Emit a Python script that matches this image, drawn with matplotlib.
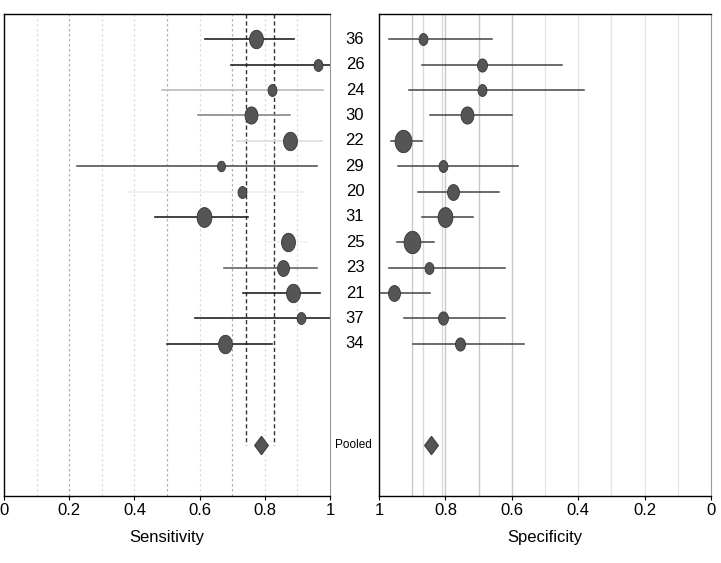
import matplotlib
matplotlib.use("Agg")
import matplotlib.pyplot as plt
import numpy as np
from matplotlib.path import Path
from matplotlib.transforms import blended_transform_factory

plt.rcParams['font.family'] = ['Liberation Sans', 'DejaVu Sans']

# ---- data ----
studies = ["36", "26", "24", "30", "22", "29", "20", "31", "25", "23", "21", "37", "34"]
sens = [0.773, 0.964, 0.821, 0.758, 0.877, 0.666, 0.729, 0.613, 0.872, 0.857, 0.885, 0.911, 0.678]
sens_lo = [0.617, 0.695, 0.484, 0.596, 0.714, 0.225, 0.38, 0.463, 0.80, 0.675, 0.734, 0.586, 0.501]
sens_hi = [0.890, 1.000, 0.980, 0.877, 0.975, 0.959, 0.92, 0.749, 0.93, 0.961, 0.969, 1.000, 0.821]
spec = [0.868, 0.689, 0.691, 0.735, 0.929, 0.808, 0.776, 0.801, 0.900, 0.848, 0.954, 0.806, 0.756]
spec_lo = [0.969, 0.870, 0.909, 0.846, 0.964, 0.944, 0.882, 0.870, 0.947, 0.969, 1.000, 0.925, 0.897]
spec_hi = [0.661, 0.450, 0.383, 0.600, 0.871, 0.580, 0.639, 0.716, 0.834, 0.620, 0.846, 0.620, 0.563]
sens_weight = [14, 9, 9, 13, 14, 8, 9, 15, 14, 12, 14, 9, 14]
spec_weight = [9, 10, 9, 13, 17, 9, 12, 15, 17, 9, 12, 10, 10]
pooled_label = "Pooled"
pooled_sens, pooled_sens_lo, pooled_sens_hi = 0.787, 0.741, 0.829
pooled_spec, pooled_spec_lo, pooled_spec_hi = 0.843, 0.868, 0.811
xtick_vals = [0, 0.2, 0.4, 0.6, 0.8, 1]
xtick_labels = ["0", "0.2", "0.4", "0.6", "0.8", "1"]

# CI line shades (as rendered in the original)
sens_ci_color = ["#222222", "#222222", "#bbbbbb", "#888888", "#dddddd", "#555555", "#eeeeee",
                 "#222222", "#f2f2f2", "#666666", "#222222", "#222222", "#222222"]
spec_ci_color = "#444444"

ellipse = Path(np.column_stack([0.75 * np.cos(np.linspace(0, 2 * np.pi, 60)),
                                np.sin(np.linspace(0, 2 * np.pi, 60))]))
diamond = Path([(0, 1), (0.75, 0), (0, -1), (-0.75, 0), (0, 1)])

W, H = 721, 563
fig = plt.figure(figsize=(W / 100, H / 100), dpi=100)
axL = fig.add_axes([4 / W, 1 - 496 / H, 326 / W, 482 / H])
axR = fig.add_axes([379 / W, 1 - 496 / H, 332 / W, 482 / H])

n = len(studies)
ypos = np.arange(n)
y_pooled = n + 3

for ax in (axL, axR):
    ax.set_ylim(n + 5, -1)
    ax.set_yticks([])
    for s in ("left", "top", "bottom"):
        ax.spines[s].set_color("black")
        ax.spines[s].set_linewidth(1.0)
    ax.spines["right"].set_color("#999999")
    ax.tick_params(axis="x", length=3, labelsize=12, pad=2, colors="black")
    ax.set_xticks(xtick_vals)
    ax.set_xticklabels(xtick_labels)

# ---- left: sensitivity ----
axL.set_xlim(0, 1)
for g in np.arange(0.1, 1.0, 0.1):
    dark = round(g, 1) in (0.2, 0.5, 0.7)
    axL.axvline(g, color="#b0b0b0" if dark else "#dedede", ls=(0, (2, 2)), lw=0.9, zorder=0)
for v in (pooled_sens_lo, pooled_sens_hi):
    axL.plot([v, v], [-1, y_pooled], color="#333333", ls=(0, (3, 2)), lw=1.0, zorder=1)
for i in range(n):
    axL.plot([sens_lo[i], sens_hi[i]], [ypos[i], ypos[i]], color=sens_ci_color[i], lw=1.2, zorder=2)
    axL.plot(sens[i], ypos[i], marker=ellipse, ms=sens_weight[i] * 0.95, color="#555555",
             mec="#333333", mew=0.6, zorder=3)
axL.plot(pooled_sens, y_pooled, marker=diamond, ms=13, color="#555555", mec="#444444", zorder=3)
axL.set_xlabel("Sensitivity", fontsize=12, labelpad=9)

# ---- right: specificity ----
axR.set_xlim(1, 0)
for g in np.arange(0.1, 1.0, 0.1):
    dark = round(g, 1) in (0.9, 0.8, 0.7, 0.6)
    axR.axvline(g, color="#c8c8c8" if dark else "#e6e6e6", lw=1.0, zorder=0)
for v in (pooled_spec_lo, pooled_spec_hi):
    axR.axvline(v, color="#dadada", lw=1.0, zorder=0)
for i in range(n):
    axR.plot([spec_lo[i], spec_hi[i]], [ypos[i], ypos[i]], color=spec_ci_color, lw=1.1, zorder=2)
    axR.plot(spec[i], ypos[i], marker=ellipse, ms=spec_weight[i] * 0.95, color="#555555",
             mec="#333333", mew=0.6, zorder=3)
axR.plot(pooled_spec, y_pooled, marker=diamond, ms=13, color="#555555", mec="#444444", zorder=3)
axR.set_xlabel("Specificity", fontsize=12, labelpad=9)

# ---- study labels between panels ----
tr = blended_transform_factory(fig.transFigure, axL.transData)
for i, s in enumerate(studies):
    fig.text(355 / W, ypos[i], s, transform=tr, ha="center", va="center", fontsize=12)
fig.text(353 / W, y_pooled, pooled_label, transform=tr, ha="center", va="center", fontsize=8.5)

fig.savefig("out.png", dpi=100)
